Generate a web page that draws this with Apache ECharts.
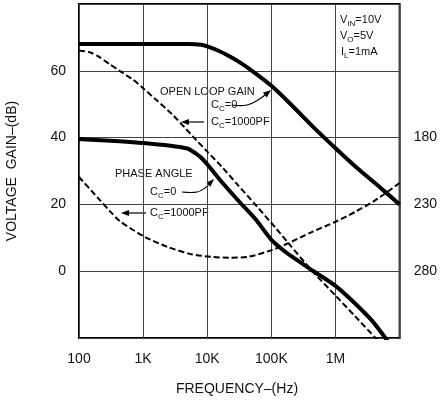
<!DOCTYPE html>
<html>
<head>
<meta charset="utf-8">
<script src="https://cdn.jsdelivr.net/npm/echarts@6/dist/echarts.min.js"></script>
<style>
  html, body { margin: 0; padding: 0; background: #fff; }
  #chart { width: 440px; height: 402px; }
</style>
</head>
<body>
<div id="chart"></div>
<script>
// ---------- DATA ----------
// Open loop gain (dB), Cc = 0
const olFreqC0 = [100, 1000, 5000, 8000, 10000, 15000, 20000, 30000, 50000, 100000, 200000, 500000, 1000000, 2000000, 5000000, 10000000];
const olGainC0 = [68, 68, 68, 67.8, 67.3, 66, 64.8, 62.9, 60, 55.5, 50, 42.3, 36.8, 31.5, 25, 20];

// Open loop gain (dB), Cc = 1000pF
const olFreqC1000 = [100, 150, 200, 300, 430, 700, 1000, 1600, 2900, 4700, 6000, 10000, 17000, 30000, 57000, 117000, 200000, 435000, 1000000, 2000000, 4200000, 5000000];
const olGainC1000 = [66.1, 65.5, 64.3, 62, 60, 57.3, 54.8, 51.3, 46.8, 42.5, 40.3, 35.8, 31.2, 25.8, 19.8, 12.9, 7.6, 0, -7.3, -13.4, -20, -21.6];

// Phase angle (degrees), Cc = 0
const phFreqC0 = [100, 1000, 4750, 7600, 9600, 17400, 31600, 57500, 100000, 170000, 240000, 436000, 1000000, 2000000, 3700000, 6000000, 7000000];
const phaseC0 = [181, 184, 188, 194, 199, 214, 228, 241.5, 256.5, 266, 271, 279.5, 291, 304, 317, 330, 335];

// Phase angle (degrees), Cc = 1000pF
const phFreqC1000 = [100, 212, 303, 433, 1060, 2410, 5690, 11600, 22100, 45200, 100000, 170000, 435000, 1000000, 2050000, 4200000, 10000000];
const phaseC1000 = [209.5, 226.8, 235, 242.5, 254.3, 261.8, 267.3, 269.3, 269.9, 269.1, 264.3, 259.8, 250.5, 243, 235.5, 226.8, 214];

// Tick labels
const xTickValues = [100, 1000, 10000, 100000, 1000000, 10000000];
const xTickLabels = ['100', '1K', '10K', '100K', '1M', ''];
const gainTickLabels = [0, 20, 40, 60];
const phaseTickLabels = [180, 230, 280];

// ---------- CHART ----------
const FONT = "'Liberation Sans', Arial, sans-serif";
const chart = echarts.init(document.getElementById('chart'), null, { renderer: 'canvas' });

const zip = (xs, ys) => xs.map((x, i) => [x, ys[i]]);

const G = { left: 79, right: 39, top: 4, bottom: 64 };

function arrowHead(tx, ty, angleDeg) {
  const a = angleDeg * Math.PI / 180;
  const L = 8, W = 3;
  const bx = tx - L * Math.cos(a), by = ty - L * Math.sin(a);
  const px = -Math.sin(a) * W, py = Math.cos(a) * W;
  return {
    type: 'polygon',
    shape: { points: [[tx, ty], [bx + px, by + py], [bx - px, by - py]] },
    style: { fill: '#000' }
  };
}
function pline(points) {
  return { type: 'polyline', shape: { points: points, smooth: 0.4 }, style: { stroke: '#000', lineWidth: 1.2, fill: null } };
}
const rich = {
  m: { fontSize: 11, fontFamily: FONT, color: '#111', lineHeight: 14 },
  s: { fontSize: 8, fontFamily: FONT, color: '#111', lineHeight: 14, padding: [7, 0, 0, 0] }
};
function label(x, y, text) {
  return { type: 'text', x: x, y: y, style: { text: text, rich: rich, verticalAlign: 'middle', align: 'left', font: '11px ' + FONT, fill: '#111' } };
}
const lineCommon = { type: 'line', showSymbol: false, smooth: 0.25, clip: true };

const option = {
  animation: false,
  backgroundColor: '#fff',
  grid: { left: G.left, right: G.right, top: G.top, bottom: G.bottom, show: true, borderColor: '#000', borderWidth: 2 },
  xAxis: {
    type: 'log', logBase: 10, min: 100, max: 10000000,
    axisLine: { show: false }, axisTick: { show: false },
    splitLine: { show: true, lineStyle: { color: '#444', width: 1 } },
    minorTick: { show: false }, minorSplitLine: { show: false },
    axisLabel: {
      margin: 14, color: '#111', fontSize: 14, fontFamily: FONT,
      formatter: v => { const i = xTickValues.findIndex(t => Math.abs(t - v) / t < 1e-6); return i >= 0 ? xTickLabels[i] : ''; }
    }
  },
  yAxis: [
    {
      type: 'value', min: -20, max: 80, interval: 20,
      axisLine: { show: false }, axisTick: { show: false },
      splitLine: { show: true, lineStyle: { color: '#444', width: 1 } },
      axisLabel: { margin: 13, color: '#111', fontSize: 14, fontFamily: FONT,
        formatter: v => gainTickLabels.includes(v) ? String(v) : '' }
    },
    {
      type: 'value', min: 80, max: 330, interval: 50, inverse: true, position: 'right',
      axisLine: { show: false }, axisTick: { show: false }, splitLine: { show: false },
      axisLabel: { margin: 14, color: '#111', fontSize: 14, fontFamily: FONT,
        formatter: v => phaseTickLabels.includes(v) ? String(v) : '' }
    }
  ],
  series: [
    Object.assign({ name: 'OL Cc=0', yAxisIndex: 0, data: zip(olFreqC0, olGainC0),
      lineStyle: { color: '#000', width: 4 } }, lineCommon),
    Object.assign({ name: 'OL Cc=1000PF', yAxisIndex: 0, data: zip(olFreqC1000, olGainC1000),
      lineStyle: { color: '#000', width: 2, type: [6, 3] } }, lineCommon),
    Object.assign({ name: 'Phase Cc=0', yAxisIndex: 1, data: zip(phFreqC0, phaseC0),
      lineStyle: { color: '#000', width: 4 } }, lineCommon),
    Object.assign({ name: 'Phase Cc=1000PF', yAxisIndex: 1, data: zip(phFreqC1000, phaseC1000),
      lineStyle: { color: '#000', width: 2, type: [6, 3] } }, lineCommon)
  ],
  graphic: [
    { type: 'text', x: 12, y: 171, rotation: Math.PI / 2,
      style: { text: 'VOLTAGE  GAIN–(dB)', font: '14px ' + FONT, fill: '#111', align: 'center', verticalAlign: 'middle' } },
    { type: 'text', x: 237, y: 389,
      style: { text: 'FREQUENCY–(Hz)', font: '14px ' + FONT, fill: '#111', align: 'center', verticalAlign: 'middle' } },
    label(340, 20, '{m|V}{s|IN}{m|=10V}'),
    label(340, 36, '{m|V}{s|O}{m|=5V}'),
    label(341, 52, '{m|I}{s|L}{m|=1mA}'),
    label(160, 92, '{m|OPEN LOOP GAIN}'),
    label(211, 105, '{m|C}{s|C}{m|=0}'),
    pline([[232, 105], [247, 105], [258, 100], [265, 95]]),
    arrowHead(271, 90, -40),
    label(211, 122, '{m|C}{s|C}{m|=1000PF}'),
    pline([[204, 122], [188, 122]]),
    arrowHead(181, 122, 180),
    label(115, 174, '{m|PHASE ANGLE}'),
    label(150, 192, '{m|C}{s|C}{m|=0}'),
    pline([[182, 192], [197, 192], [205, 188], [209, 184]]),
    arrowHead(214, 179, -45),
    label(150, 213, '{m|C}{s|C}{m|=1000PF}'),
    pline([[146, 213], [129, 213]]),
    arrowHead(121, 213, 180)
  ]
};
chart.setOption(option);
</script>
</body>
</html>
